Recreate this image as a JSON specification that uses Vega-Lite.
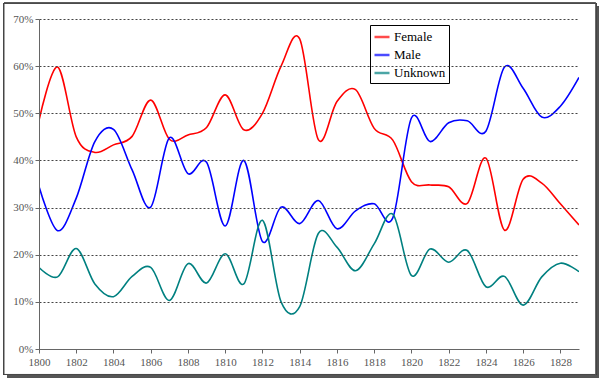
{
  "$schema": "https://vega.github.io/schema/vega-lite/v6.json",
  "width": 540,
  "height": 330,
  "autosize": {"type": "none"},
  "padding": {"left": 39, "top": 19, "right": 21, "bottom": 30},
  "background": "white",
  "data": {"values": [
    {"year": 1800, "Female": 48.5, "Male": 34.5, "Unknown": 17.3},
    {"year": 1801, "Female": 59.8, "Male": 25.1, "Unknown": 15.3},
    {"year": 1802, "Female": 45.0, "Male": 32.0, "Unknown": 21.3},
    {"year": 1803, "Female": 41.7, "Male": 44.0, "Unknown": 13.8},
    {"year": 1804, "Female": 43.3, "Male": 46.6, "Unknown": 11.1},
    {"year": 1805, "Female": 45.1, "Male": 38.0, "Unknown": 15.4},
    {"year": 1806, "Female": 52.8, "Male": 30.1, "Unknown": 17.3},
    {"year": 1807, "Female": 44.5, "Male": 44.8, "Unknown": 10.3},
    {"year": 1808, "Female": 45.4, "Male": 37.2, "Unknown": 18.1},
    {"year": 1809, "Female": 47.0, "Male": 39.6, "Unknown": 14.0},
    {"year": 1810, "Female": 53.9, "Male": 26.1, "Unknown": 20.2},
    {"year": 1811, "Female": 46.5, "Male": 40.0, "Unknown": 13.8},
    {"year": 1812, "Female": 50.0, "Male": 22.8, "Unknown": 27.3},
    {"year": 1813, "Female": 60.0, "Male": 30.1, "Unknown": 10.0},
    {"year": 1814, "Female": 65.8, "Male": 26.6, "Unknown": 9.0},
    {"year": 1815, "Female": 44.4, "Male": 31.5, "Unknown": 24.5},
    {"year": 1816, "Female": 52.5, "Male": 25.5, "Unknown": 21.6},
    {"year": 1817, "Female": 55.0, "Male": 29.3, "Unknown": 16.6},
    {"year": 1818, "Female": 46.8, "Male": 30.8, "Unknown": 22.3},
    {"year": 1819, "Female": 44.3, "Male": 27.8, "Unknown": 28.6},
    {"year": 1820, "Female": 35.5, "Male": 49.0, "Unknown": 15.6},
    {"year": 1821, "Female": 34.8, "Male": 44.0, "Unknown": 21.2},
    {"year": 1822, "Female": 34.4, "Male": 48.0, "Unknown": 18.4},
    {"year": 1823, "Female": 30.9, "Male": 48.4, "Unknown": 20.9},
    {"year": 1824, "Female": 40.5, "Male": 46.2, "Unknown": 13.2},
    {"year": 1825, "Female": 25.2, "Male": 59.8, "Unknown": 15.4},
    {"year": 1826, "Female": 36.0, "Male": 55.3, "Unknown": 9.3},
    {"year": 1827, "Female": 35.2, "Male": 49.2, "Unknown": 15.3},
    {"year": 1828, "Female": 30.8, "Male": 51.5, "Unknown": 18.2},
    {"year": 1829, "Female": 26.3, "Male": 57.6, "Unknown": 16.4}
  ]},
  "layer": [
    {
      "mark": {"type": "rect", "fill": "#555555", "clip": false},
      "encoding": {
        "x": {"datum": 1798.3, "type": "quantitative", "scale": {"domain": [1800, 1829]}},
        "x2": {"datum": 1830.06},
        "y": {"datum": 72.6, "type": "quantitative", "scale": {"domain": [0, 70]}},
        "y2": {"datum": -6.1}
      }
    },
    {
      "mark": {"type": "rect", "fill": "white", "stroke": "#444444", "strokeWidth": 1, "clip": false},
      "encoding": {
        "x": {"datum": 1798.12, "type": "quantitative"},
        "x2": {"datum": 1829.9},
        "y": {"datum": 73.3, "type": "quantitative"},
        "y2": {"datum": -5.4}
      }
    },
    {
      "transform": [{"fold": ["Female", "Male", "Unknown"], "as": ["series", "value"]}],
      "mark": {"type": "line", "interpolate": "cardinal", "strokeWidth": 1.6, "clip": true},
      "encoding": {
        "x": {
          "field": "year", "type": "quantitative",
          "scale": {"domain": [1800, 1829], "nice": false, "zero": false},
          "axis": {
            "zindex": 1,
            "values": [1800, 1802, 1804, 1806, 1808, 1810, 1812, 1814, 1816, 1818, 1820, 1822, 1824, 1826, 1828],
            "format": "d", "title": null, "grid": false, "labelOverlap": false, "labelFlush": false,
            "domainColor": "#666666", "tickColor": "#666666", "tickSize": 4,
            "labelFont": "Liberation Serif", "labelFontSize": 11, "labelColor": "#555555", "labelPadding": 3
          }
        },
        "y": {
          "field": "value", "type": "quantitative",
          "scale": {"domain": [0, 70], "nice": false},
          "axis": {
            "zindex": 1,
            "values": [0, 10, 20, 30, 40, 50, 60, 70],
            "labelExpr": "datum.value + '%'", "title": null, "labelOverlap": false, "labelFlush": false,
            "grid": true, "gridColor": "#444444", "gridDash": [2, 2], "gridWidth": 1,
            "domainColor": "#666666", "tickColor": "#666666", "tickSize": 4,
            "labelFont": "Liberation Serif", "labelFontSize": 11, "labelColor": "#555555", "labelPadding": 2
          }
        },
        "color": {
          "field": "series", "type": "nominal",
          "scale": {"domain": ["Female", "Male", "Unknown"], "range": ["#FF0000", "#0000FF", "#008080"]},
          "legend": {
            "title": null, "orient": "none", "legendX": 331, "legendY": 6,
            "direction": "vertical",
            "strokeColor": "#000000", "fillColor": "white", "padding": 3,
            "symbolType": "stroke", "symbolSize": 225, "symbolStrokeWidth": 2.5, "symbolOpacity": 0.7,
            "labelFont": "Liberation Serif", "labelFontSize": 13, "labelColor": "#000000",
            "labelOffset": 3, "rowPadding": 2
          }
        }
      }
    }
  ],
  "config": {
    "view": {"stroke": null},
    "axis": {"labelOverlap": false, "labelFlush": false},
    "axisX": {"labelOverlap": false, "labelFlush": false, "tickCount": 15},
    "axisQuantitative": {"labelOverlap": false}
  }
}
